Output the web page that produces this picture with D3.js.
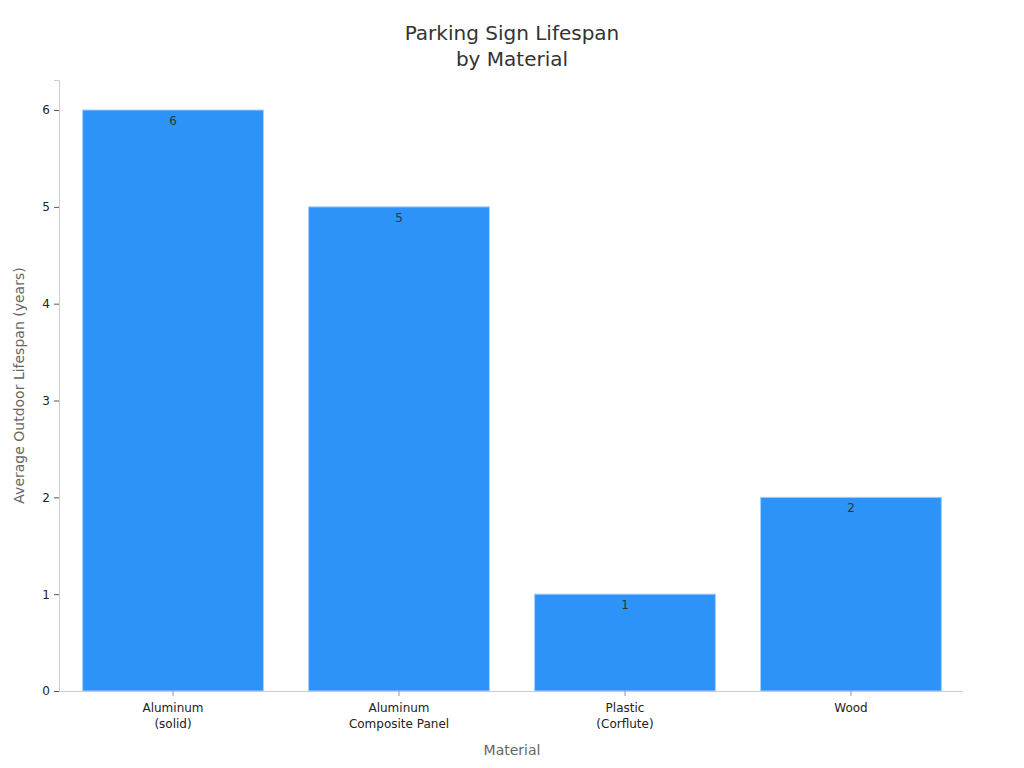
<!DOCTYPE html>
<html><head><meta charset="utf-8">
<script src="https://cdn.jsdelivr.net/npm/d3@7"></script>
<style>body{margin:0;background:#fff;font-family:"DejaVu Sans",sans-serif;}</style>
</head><body>
<svg id="c" width="1024" height="768"></svg>
<script>
const categories = [["Aluminum","(solid)"],["Aluminum","Composite Panel"],["Plastic","(Corflute)"],["Wood"]];
const values = [6,5,1,2];
const yTicks = [0,1,2,3,4,5,6];

const svg = d3.select("#c");
const m = {l:59, r:963, t:80, b:691};
const x = d3.scaleBand().domain(categories.map((d,i)=>i)).range([m.l+1,m.r+1]).paddingInner(0.2).paddingOuter(0.1);
const y = d3.scaleLinear().domain([0,6.31]).range([m.b,m.t]);

// bars
svg.selectAll("rect.bar").data(values).enter().append("rect")
  .attr("x",(d,i)=>x(i)).attr("width",x.bandwidth())
  .attr("y",d=>y(d)).attr("height",d=>y(0)-y(d))
  .attr("fill","#2E93F8").attr("stroke","#9fd0ff").attr("stroke-width",1);

svg.selectAll("text.val").data(values).enter().append("text")
  .attr("x",(d,i)=>x(i)+x.bandwidth()/2).attr("y",d=>y(d)+15)
  .attr("text-anchor","middle").attr("font-size",12).attr("fill","#333")
  .text(d=>d);

// y axis
const ya = svg.append("g").attr("transform",`translate(${m.l},0)`)
  .call(d3.axisLeft(y).tickValues(yTicks).tickFormat(d3.format("d")).tickSize(5).tickPadding(4));
ya.select(".domain").attr("stroke","#ccc");
ya.selectAll(".tick line").attr("stroke","#555");
ya.selectAll(".tick text").attr("font-family","DejaVu Sans").attr("font-size",12).attr("fill","#222");

// x axis
const xa = svg.append("g").attr("transform",`translate(0,${m.b})`)
  .call(d3.axisBottom(x).tickSize(5).tickFormat(""));
xa.select(".domain").attr("stroke","#ccc").attr("d",`M${m.l},0.5H${m.r}`);
xa.selectAll(".tick line").attr("stroke","#999");
xa.selectAll(".tick").each(function(d){
  const t = d3.select(this).append("text").attr("fill","#222").attr("font-size",12)
    .attr("font-family","DejaVu Sans").attr("text-anchor","middle");
  categories[d].forEach((s,j)=>t.append("tspan").attr("x",0).attr("y",21+j*16).text(s));
});

// titles
const title = svg.append("text").attr("text-anchor","middle").attr("font-size",20).attr("fill","#333");
title.append("tspan").attr("x",512).attr("y",40).text("Parking Sign Lifespan");
title.append("tspan").attr("x",512).attr("y",66).text("by Material");

svg.append("text").attr("x",(m.l+m.r)/2+1).attr("y",755).attr("text-anchor","middle")
  .attr("font-size",14).attr("fill","#666").text("Material");
svg.append("text").attr("transform",`translate(24,${(m.t+m.b)/2}) rotate(-90)`).attr("text-anchor","middle")
  .attr("font-size",14).attr("fill","#666").text("Average Outdoor Lifespan (years)");
</script>
</body></html>
